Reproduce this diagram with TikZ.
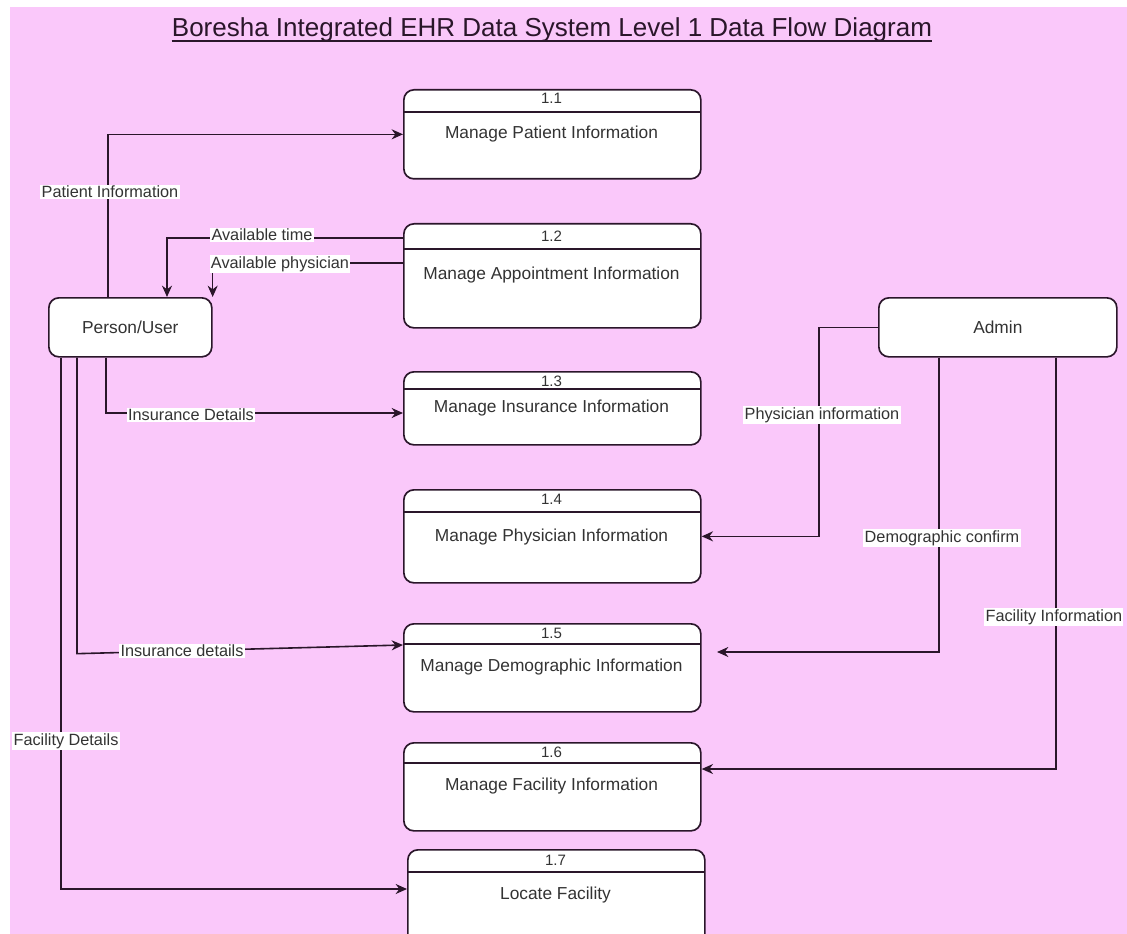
\documentclass[tikz,border=0pt]{standalone}
\usepackage{fontspec}
\setmainfont{Liberation Sans}
\usetikzlibrary{arrows.meta,calc}
\definecolor{bgpink}{HTML}{FAC8FA}
\definecolor{ink}{HTML}{2A162A}
\definecolor{txt}{HTML}{333333}
\tikzset{
  proc/.style={draw=ink, line width=1.25pt, fill=white, rounded corners=7.5pt, inner sep=0pt},
  ent/.style={draw=ink, line width=1.25pt, fill=white, rounded corners=7.5pt, inner sep=0pt,
    minimum height=59*0.75pt, text=txt, font=\fontsize{13}{15}\selectfont},
  divline/.style={draw=ink, line width=1.2pt},
  numtxt/.style={fill=white, inner sep=1pt, text=txt, font=\fontsize{11.3}{12}\selectfont},
  proctxt/.style={inner sep=0pt, text=txt, font=\fontsize{13}{15}\selectfont},
  lbl/.style={fill=white, inner sep=1pt, text=txt, font=\fontsize{12.2}{14}\selectfont},
  flow/.style={draw=ink, line width=1.2pt, -{Stealth[length=8.5pt,width=7.5pt]}},
}
% name, x, top, bottom, divider y, number y, text y, number, text
\newcommand\procbox[9]{%
  \node[proc, minimum width=297*0.75pt, minimum height={(#4-#3)*0.75pt}, anchor=north west] (#1) at (#2,#3) {};
  \draw[divline] (#2,#5) -- ({#2+297},#5);
  \node[numtxt] (#1n) at ({#2+148.5},#6) {#8};
  \node[proctxt] (#1t) at ({#2+148.5},#7) {#9};
}
\begin{document}
\begin{tikzpicture}[x=0.75pt,y=-0.75pt]
\clip (0,0) rectangle (1127,934);
\fill[white] (0,0) rectangle (1127,934);
\fill[bgpink] (10,7) rectangle (1127,934);

% title
\node[anchor=base, inner sep=0pt, text=ink, font=\fontsize{19.5}{22}\selectfont] (title) at (552,37)
  {Boresha Integrated EHR Data System Level 1 Data Flow Diagram};
\draw[ink, line width=0.9pt] ([yshift=-4*0.75pt]title.base west) -- ([yshift=-4*0.75pt]title.base east);

% processes
\procbox{p1}{403}{89}{178}{112}{98}{134}{1.1}{Manage Patient Information}
\procbox{p2}{403}{223}{327}{249}{236}{275}{1.2}{Manage Appointment Information}
\procbox{p3}{403}{371}{444}{389}{381}{408}{1.3}{Manage Insurance Information}
\procbox{p4}{403}{489}{582}{512}{499}{537}{1.4}{Manage Physician Information}
\procbox{p5}{403}{623}{711}{644}{633}{667}{1.5}{Manage Demographic Information}
\procbox{p6}{403}{742}{830}{763}{752}{786}{1.6}{Manage Facility Information}
\procbox{p7}{407}{849}{950}{872}{860}{895}{1.7}{Locate Facility}

% entities
\node[ent, minimum width=163*0.75pt, anchor=north west] (pu) at (48,297) {Person/User};
\node[ent, minimum width=238*0.75pt, anchor=north west] (ad) at (878,297) {Admin};

\coordinate (c7) at (819,400);
\coordinate (dend) at (717,652);

% flows from Person/User
\draw[flow] ([xshift=60*0.75pt]pu.north west) |- (p1.west);
\draw[flow] ([yshift=-15*0.75pt]p2.north west) -| ([xshift=119*0.75pt]pu.north west);
\draw[flow] ([yshift=-40*0.75pt]p2.north west) -| (pu.north east);
\draw[flow] ([xshift=58*0.75pt]pu.south west) |- ([yshift=-42*0.75pt]p3.north west);
\draw[flow] ([xshift=29*0.75pt]pu.south west) -- ++(0,296) -- ([yshift=-22*0.75pt]p5.north west);
\draw[flow] ([xshift=13*0.75pt]pu.south west) |- ([yshift=-40*0.75pt]p7.north west);

% flows from Admin
\draw[flow] (ad.west) -| (c7) |- (p4.east);
\draw[flow] ([xshift=61*0.75pt]ad.south west) |- (dend);
\draw[flow] ([xshift=178*0.75pt]ad.south west) |- ([yshift=-27*0.75pt]p6.north east);

% labels
\node[lbl] (l1) at (110,192) {Patient Information};
\node[lbl] (l2) at (262,235) {Available time};
\node[lbl] (l3) at (280,264) {Available physician};
\node[lbl] (l4) at (191,415) {Insurance Details};
\node[lbl] (l5) at (182,651) {Insurance details};
\node[lbl] (l6) at (66,741) {Facility Details};
\node[lbl] (l7) at (822,415) {Physician information};
\node[lbl] (l8) at (942,538) {Demographic confirm};
\node[lbl, anchor=west] (l9) at (984,617) {Facility Information};
\end{tikzpicture}
\end{document}
